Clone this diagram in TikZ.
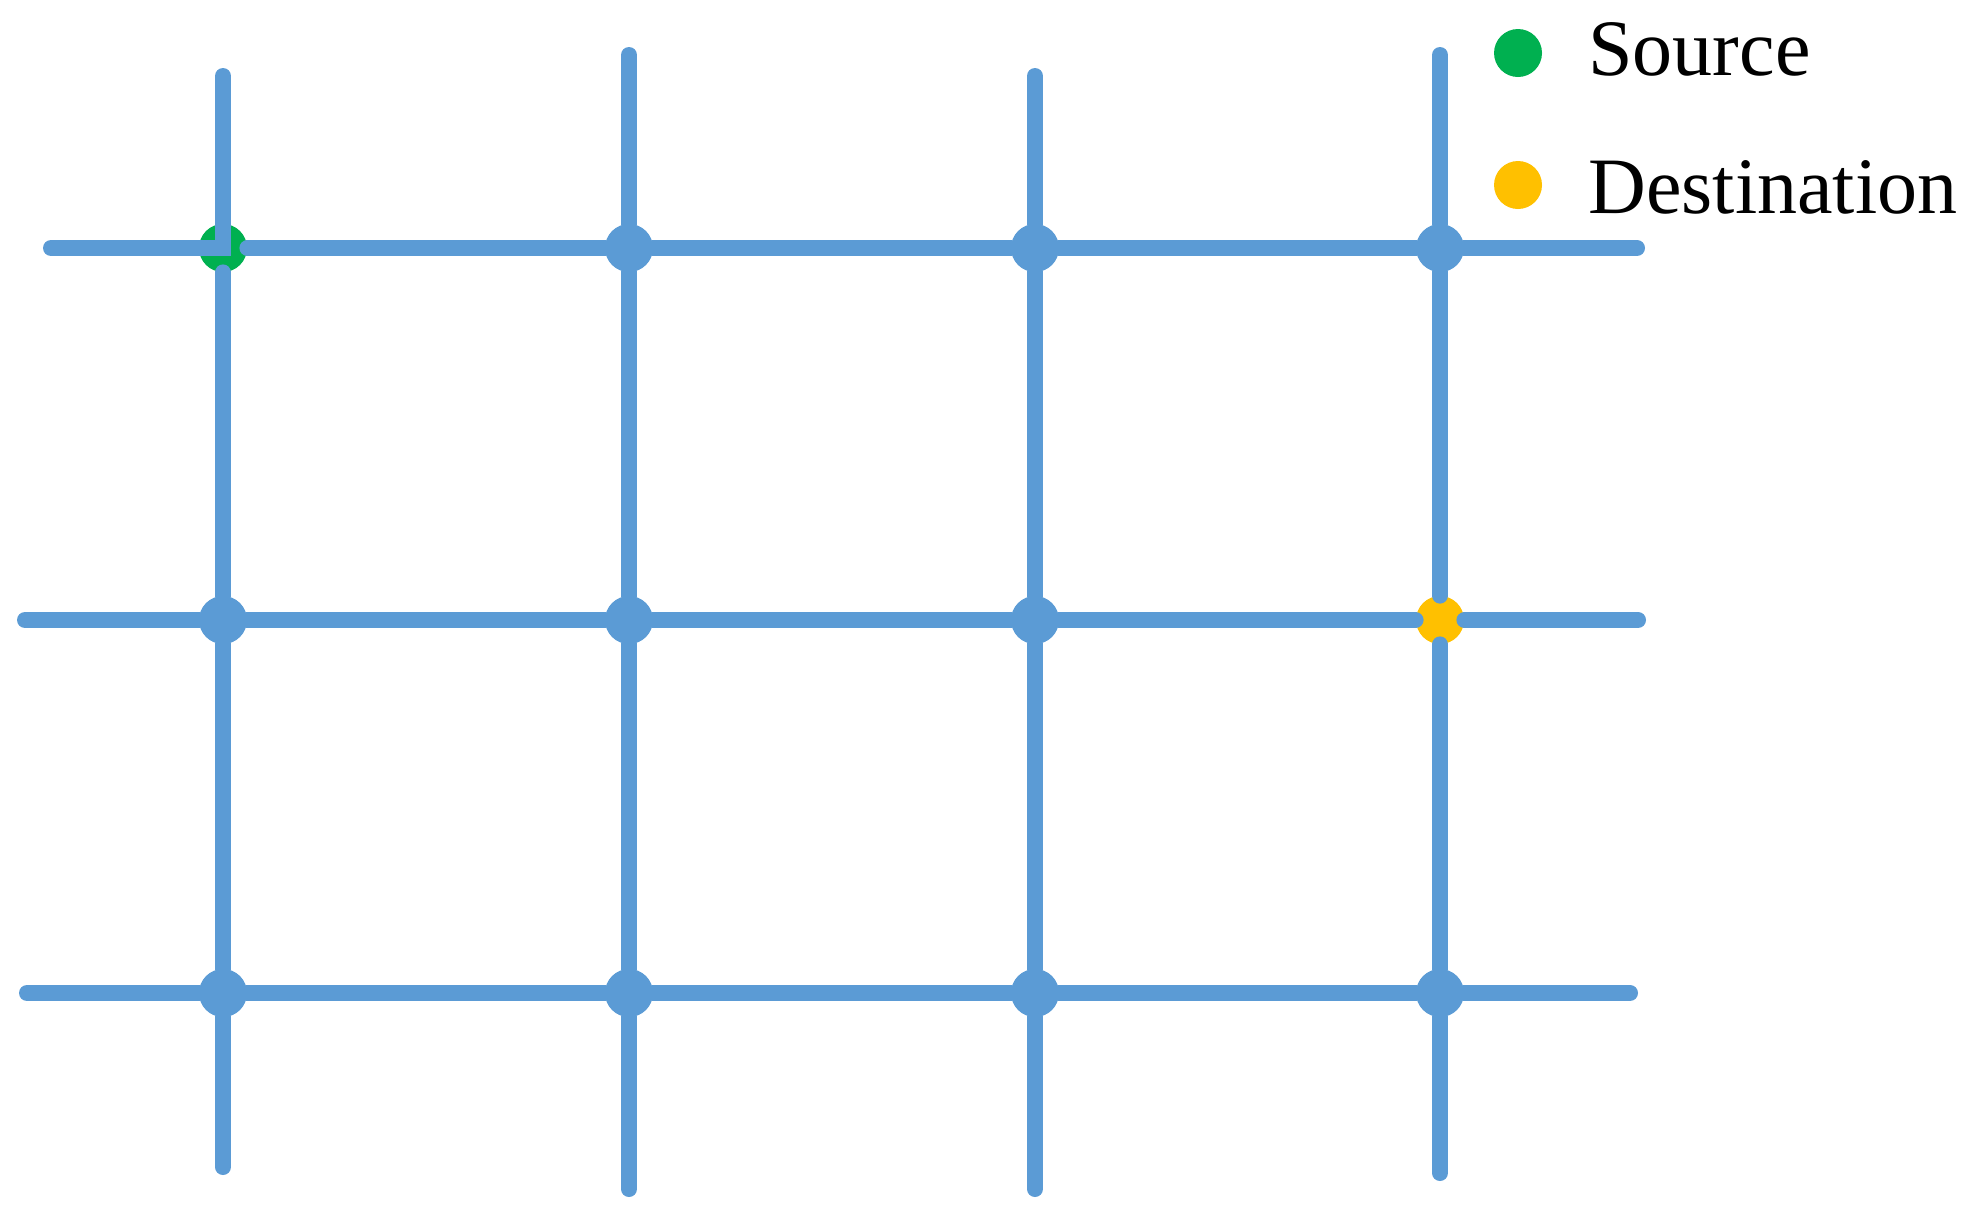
\documentclass[tikz,border=0pt]{standalone}
\usepackage{fontspec}
\setmainfont{Liberation Serif}
\definecolor{gridblue}{HTML}{5B9BD5}
\definecolor{srcgreen}{HTML}{00B050}
\definecolor{dstyellow}{HTML}{FFC000}
\begin{document}
\begin{tikzpicture}[x=0.5pt,y=-0.5pt,
  road/.style={draw=gridblue, line width=8pt, line cap=round},
  dot/.style={circle, inner sep=0pt, minimum size=24pt},
  junction/.style={dot, fill=gridblue},
  srcdot/.style={dot, fill=srcgreen},
  dstdot/.style={dot, fill=dstyellow},
  legendtext/.style={anchor=base west, inner sep=0pt, font=\fontsize{40pt}{48pt}\selectfont}]
\useasboundingbox (0,0) rectangle (1984,1222);
% free ends
\coordinate (t1) at (223,76);
\coordinate (t2) at (629,55);
\coordinate (t3) at (1035,76);
\coordinate (t4) at (1440,55);
\coordinate (b1) at (223,1167);
\coordinate (b2) at (629,1189);
\coordinate (b3) at (1035,1189);
\coordinate (b4) at (1440,1173);
\coordinate (l1) at (51,248);
\coordinate (l2) at (25,620);
\coordinate (l3) at (27,993);
\coordinate (r1) at (1637,248);
\coordinate (r2) at (1638,620);
\coordinate (r3) at (1630,993);
% junctions
\node[srcdot]   (n11) at (223,248) {};
\node[junction] (n12) at (629,248) {};
\node[junction] (n13) at (1035,248) {};
\node[junction] (n14) at (1440,248) {};
\node[junction] (n21) at (223,620) {};
\node[junction] (n22) at (629,620) {};
\node[junction] (n23) at (1035,620) {};
\node[dstdot]   (n24) at (1440,620) {};
\node[junction] (n31) at (223,993) {};
\node[junction] (n32) at (629,993) {};
\node[junction] (n33) at (1035,993) {};
\node[junction] (n34) at (1440,993) {};
% roads
\draw[road, line join=miter] (t1) -- (n11.center) -- (l1);
\draw[road] (n11) -- (n21) -- (n31) -- (b1);
\draw[road] (t2) -- (n12) -- (n22) -- (n32) -- (b2);
\draw[road] (t3) -- (n13) -- (n23) -- (n33) -- (b3);
\draw[road] (t4) -- (n14) -- (n24) -- (n34) -- (b4);
\draw[road] (n11) -- (n12) -- (n13) -- (n14) -- (r1);
\draw[road] (l2) -- (n21) -- (n22) -- (n23) -- (n24) -- (r2);
\draw[road] (l3) -- (n31) -- (n32) -- (n33) -- (n34) -- (r3);
% legend
\node[srcdot] (lsrc) at (1518,53) {};
\node[dstdot] (ldst) at (1518,185) {};
\node[legendtext] (lsrctext) at (1588,75) {Source};
\node[legendtext] (ldsttext) at (1588,213) {Destination};
\end{tikzpicture}
\end{document}
